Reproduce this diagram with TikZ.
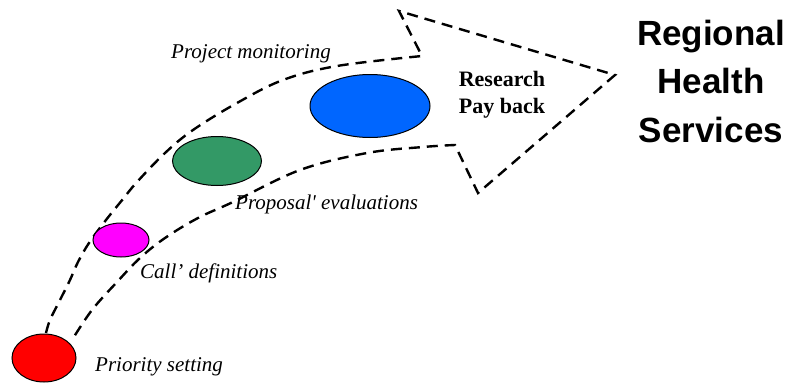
\documentclass[tikz,border=0pt]{standalone}
\usepackage{fontspec}
\setmainfont{Liberation Serif}
\newfontfamily\headsans{Liberation Sans}
\usetikzlibrary{shapes.geometric}
\definecolor{stageRed}{RGB}{255,0,0}
\definecolor{stageMagenta}{RGB}{255,0,255}
\definecolor{stageGreen}{RGB}{51,153,102}
\definecolor{stageBlue}{RGB}{0,102,255}
\tikzset{
  stage/.style={ellipse, draw=black, line width=1pt, inner sep=0pt},
  outline/.style={line width=2.4pt, dash pattern=on 11pt off 7pt, line join=miter},
  steplabel/.style={inner sep=0pt, anchor=base west, font=\fontsize{21}{25}\selectfont\itshape},
}
\begin{document}
\begin{tikzpicture}[x=1pt, y=-1pt]
\useasboundingbox (0,0) rectangle (795,383);

% the dashed arrow that carries the stages
\draw[outline]
  plot[smooth, tension=0.6] coordinates {(46,333) (50,320) (60,300) (70,280) (78,262) (89,243) (106,220) (123,199) (137,182) (165,153) (193,130) (237,103) (283,80) (337,66) (422,56)}
  -- (399,11) -- (615,75) -- (478,193) -- (455,145)
  -- plot[smooth, tension=0.6] coordinates {(455,145) (423,147) (367,153) (300,170) (233,202) (198,218) (165,238) (140,258) (117,282) (92,310) (72,340)};

% stages along the path
\node[stage, fill=stageRed,     minimum width=64pt,  minimum height=48pt] (prio) at (44,358) {};
\node[stage, fill=stageMagenta, minimum width=56pt,  minimum height=34pt] (call) at (121,240) {};
\node[stage, fill=stageGreen,   minimum width=89pt,  minimum height=49pt] (eval) at (217,161) {};
\node[stage, fill=stageBlue,    minimum width=120pt, minimum height=63pt] (mon)  at (370,106) {};

% stage captions
\node[steplabel] (prioText) at (95,371) {Priority setting};
\node[steplabel] (callText) at (140,278) {Call’ definitions};
\node[steplabel] (evalText) at (235,209) {Proposal\textquotesingle\ evaluations};
\node[steplabel] (monText)  at (171,58) {Project monitoring};

% text inside the arrow head
\node[inner sep=0pt, anchor=base, font=\fontsize{22}{27}\selectfont\bfseries] (pay1) at (502,86) {Research};
\node[inner sep=0pt, anchor=base, font=\fontsize{22}{27}\selectfont\bfseries] (pay2) at (502,113) {Pay back};

% destination (base anchor sits on the last line)
\node[inner sep=0pt, anchor=base, align=center, font=\headsans\fontsize{35}{48.5}\selectfont\bfseries] (dest) at (711,142) {Regional\\Health\\Services};
\end{tikzpicture}
\end{document}
